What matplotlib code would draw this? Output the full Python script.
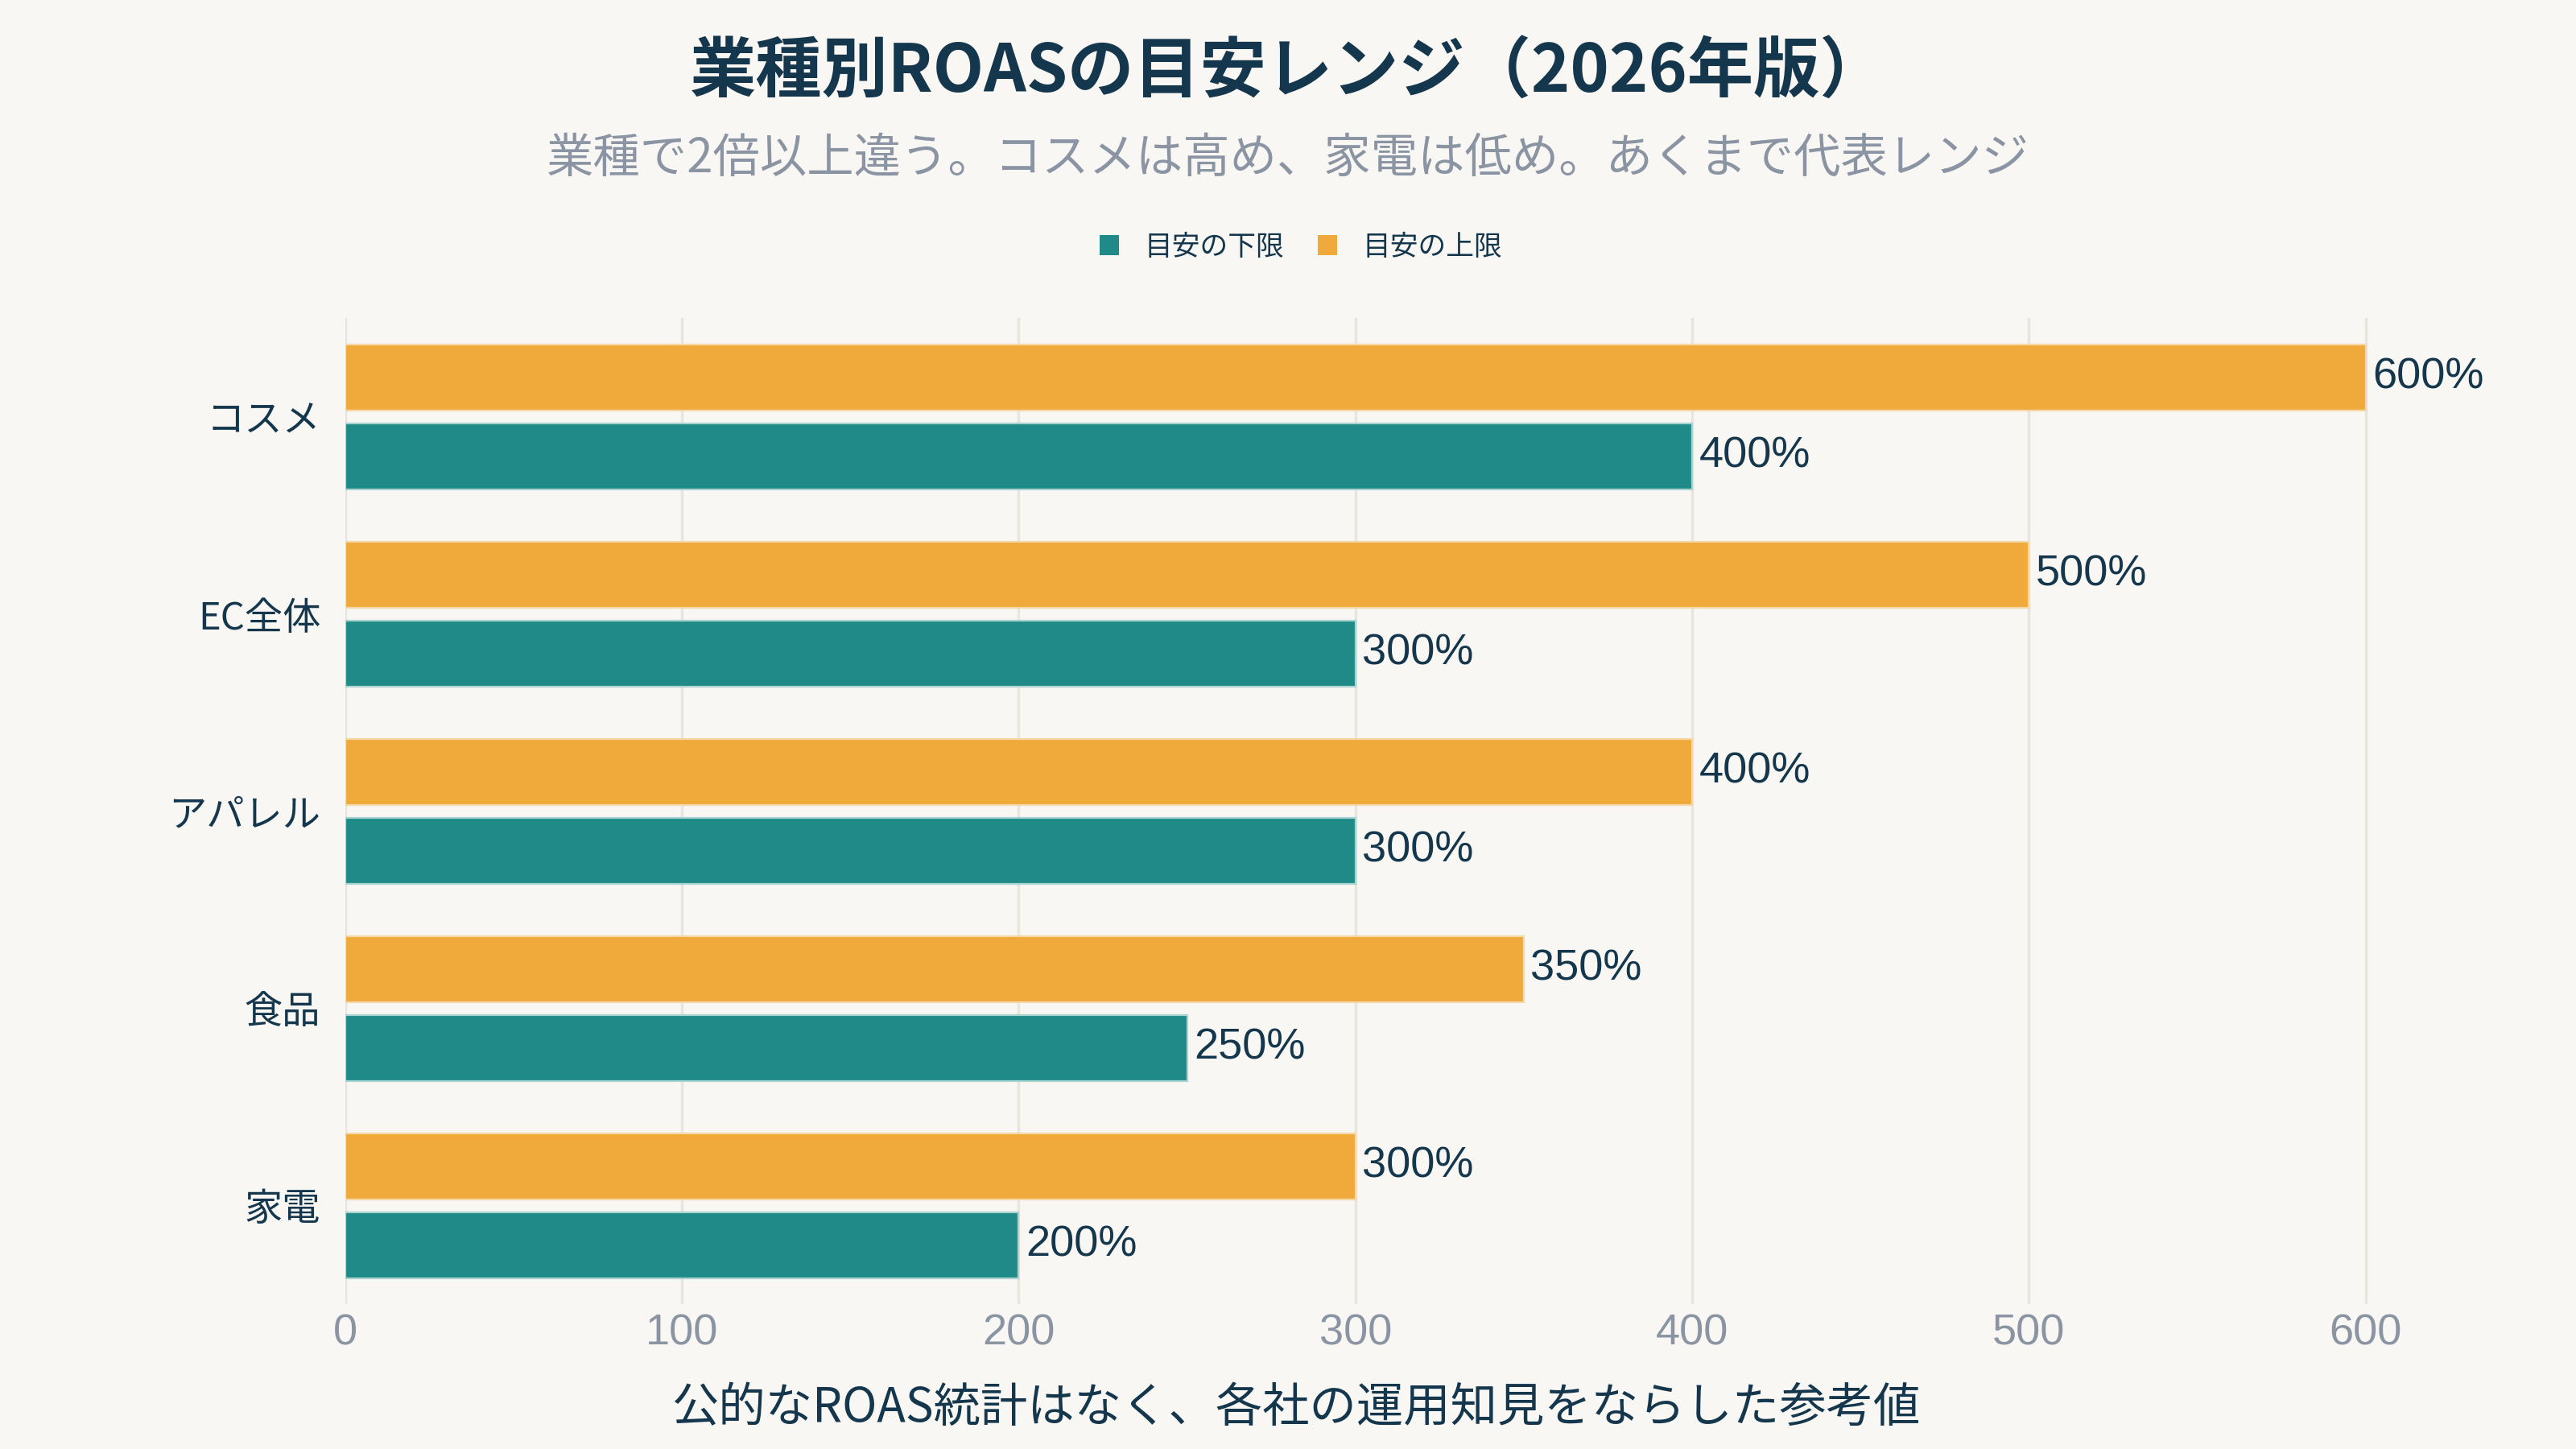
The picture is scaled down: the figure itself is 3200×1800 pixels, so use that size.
import numpy as np
import matplotlib
matplotlib.use("Agg")
import matplotlib.pyplot as plt
from matplotlib.patches import Patch

plt.rcParams['font.family'] = ['Noto Sans CJK JP', 'DejaVu Sans']
num_font = ['Liberation Sans', 'Noto Sans CJK JP']

# データ
categories = ["コスメ", "EC全体", "アパレル", "食品", "家電"]
lower = [400, 300, 300, 250, 200]   # 目安の下限
upper = [600, 500, 400, 350, 300]   # 目安の上限
xticks = [0, 100, 200, 300, 400, 500, 600]

navy = "#15374d"
gray = "#8a94a3"
teal = "#1f8a87"
orange = "#f0a93b"
bg = "#f9f7f3"

fig = plt.figure(figsize=(16, 9), dpi=200, facecolor=bg)
ax = fig.add_axes([0.134, 0.10, 0.8236, 0.6803], facecolor=bg)

y = np.arange(len(categories))
h = 0.335
ax.barh(y - 0.2, upper, height=h, color=orange, edgecolor="#f5d7a8", linewidth=0.8, zorder=3)
ax.barh(y + 0.2, lower, height=h, color=teal, edgecolor="#a9d3d0", linewidth=0.8, zorder=3)

for i in range(len(categories)):
    ax.text(upper[i] + 2, y[i] - 0.2, f"{upper[i]}%", va="center", ha="left",
            fontsize=19.5, color=navy, zorder=4, family=num_font)
    ax.text(lower[i] + 2, y[i] + 0.2, f"{lower[i]}%", va="center", ha="left",
            fontsize=19.5, color=navy, zorder=4, family=num_font)

ax.set_xlim(0, 630)
ax.set_ylim(4.5, -0.5)
ax.set_yticks(y)
ax.set_yticklabels(categories, fontsize=17, color=navy)
ax.set_xticks(xticks)
ax.set_xticklabels([str(t) for t in xticks], fontsize=19.5, color=gray, family=num_font)
ax.tick_params(axis="both", length=0)
ax.tick_params(axis="y", pad=11)
ax.tick_params(axis="x", pad=4)
ax.grid(axis="x", color="#e8e4de", linewidth=1.2, zorder=0)
for s in ax.spines.values():
    s.set_visible(False)

fig.text(0.5, 1 - 90 / 1800, "業種別ROASの目安レンジ（2026年版）", ha="center", va="center",
         fontsize=29.6, fontweight="bold", color=navy)
fig.text(0.5, 1 - 197 / 1800, "業種で2倍以上違う。コスメは高め、家電は低め。あくまで代表レンジ",
         ha="center", va="center", fontsize=21, color=gray)
fig.text(0.503, 1 - 1749 / 1800, "公的なROAS統計はなく、各社の運用知見をならした参考値",
         ha="center", va="center", fontsize=21, color=navy)

handles = [Patch(facecolor=teal, label="目安の下限"), Patch(facecolor=orange, label="目安の上限")]
leg = fig.legend(handles=handles, loc="center", bbox_to_anchor=(0.505, 1 - 307 / 1800), ncol=2,
                 frameon=False, fontsize=12.5, handlelength=0.7, handleheight=0.7,
                 handletextpad=0.9, columnspacing=1.2)
for t in leg.get_texts():
    t.set_color(navy)

fig.savefig("out.png", dpi=200, facecolor=bg)
